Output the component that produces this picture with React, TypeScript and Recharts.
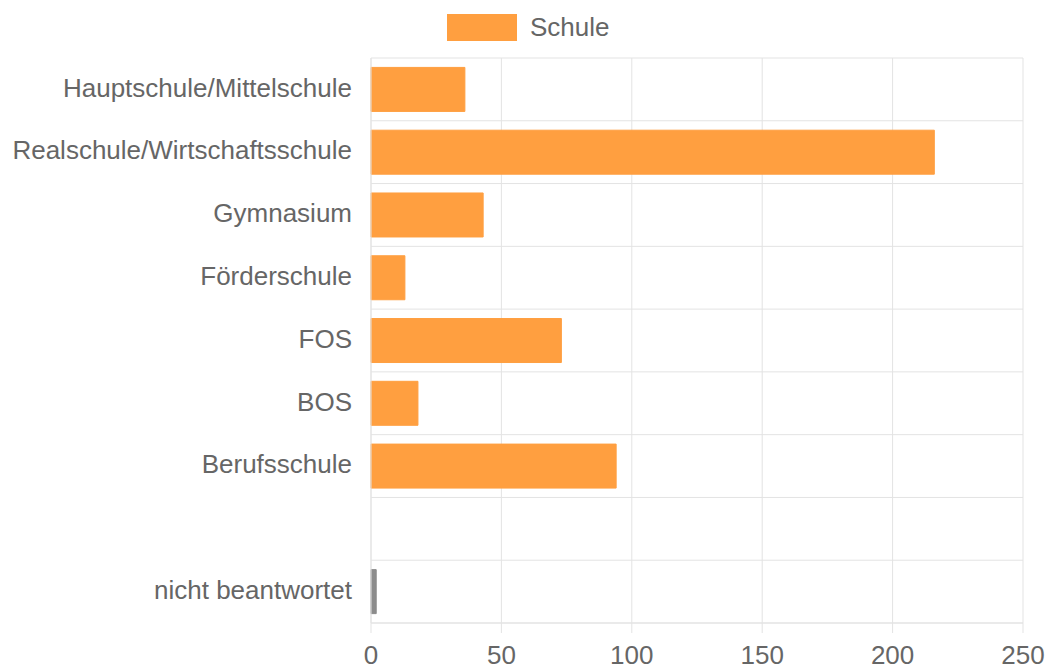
import React from "react";
import { BarChart, Bar, XAxis, YAxis, CartesianGrid, Cell, Customized } from "recharts";

const categories = [
  "Hauptschule/Mittelschule",
  "Realschule/Wirtschaftsschule",
  "Gymnasium",
  "Förderschule",
  "FOS",
  "BOS",
  "Berufsschule",
  " ",
  "nicht beantwortet",
];
const values: (number | null)[] = [36, 216, 43, 13, 73, 18, 94, null, 2];
const barColors = ["#FF9F40", "#FF9F40", "#FF9F40", "#FF9F40", "#FF9F40", "#FF9F40", "#FF9F40", "#FF9F40", "#8c8c8c"];
const xTicks = [0, 50, 100, 150, 200, 250];
const seriesName = "Schule";

const data = categories.map((c, i) => ({ name: c, value: values[i] }));

const FONT = "'Liberation Sans', Arial, sans-serif";
const GRID = "#e3e3e3";
const TEXT = "#666666";
const FS = 26;

const BoundaryTicks = (props: any) => {
  const off = props.offset;
  if (!off) return null;
  const n = categories.length;
  const lines = [];
  for (let i = 0; i <= n; i++) {
    const y = off.top + (i * off.height) / n;
    lines.push(<line key={i} x1={off.left - 11} x2={off.left} y1={y} y2={y} stroke={GRID} strokeWidth={1} />);
  }
  return <g>{lines}</g>;
};

export default function App() {
  return (
    <div style={{ position: "absolute", left: 0, top: 0, width: 1048, height: 669, background: "#fff", overflow: "hidden" }}>
      <div
        style={{
          position: "absolute",
          left: 447,
          top: 14,
          height: 27,
          display: "flex",
          alignItems: "center",
          fontFamily: FONT,
          whiteSpace: "nowrap",
        }}
      >
        <div style={{ width: 70, height: 27, background: "#FF9F40", marginRight: 13 }} />
        <span style={{ fontSize: FS, color: TEXT, lineHeight: "27px" }}>{seriesName}</span>
      </div>
      <BarChart
        width={1048}
        height={669}
        data={data}
        layout="vertical"
        margin={{ top: 58, right: 25, bottom: 0, left: 0 }}
        barCategoryGap="15%"
      >
        <CartesianGrid
          stroke={GRID}
          horizontalCoordinatesGenerator={(p: any) => {
            const off = p.offset;
            const n = categories.length;
            return Array.from({ length: n + 1 }, (_, i) => off.top + (i * off.height) / n);
          }}
        />
        <XAxis
          type="number"
          domain={[0, 250]}
          ticks={xTicks}
          interval={0}
          height={46}
          axisLine={{ stroke: GRID }}
          tickLine={{ stroke: GRID }}
          tickSize={10}
          tick={{ fill: TEXT, fontSize: FS, fontFamily: FONT }}
          tickMargin={13}
        />
        <YAxis
          type="category"
          dataKey="name"
          width={371}
          interval={0}
          axisLine={{ stroke: GRID }}
          tickLine={false}
          tickMargin={13}
          tick={{ fill: TEXT, fontSize: FS, fontFamily: FONT, dy: -2 }}
        />
        <Customized component={BoundaryTicks} />
        <Bar dataKey="value" name={seriesName} isAnimationActive={false} strokeWidth={1}>
          {data.map((d, i) => (
            <Cell key={i} fill={barColors[i]} stroke={barColors[i]} />
          ))}
        </Bar>
      </BarChart>
    </div>
  );
}
